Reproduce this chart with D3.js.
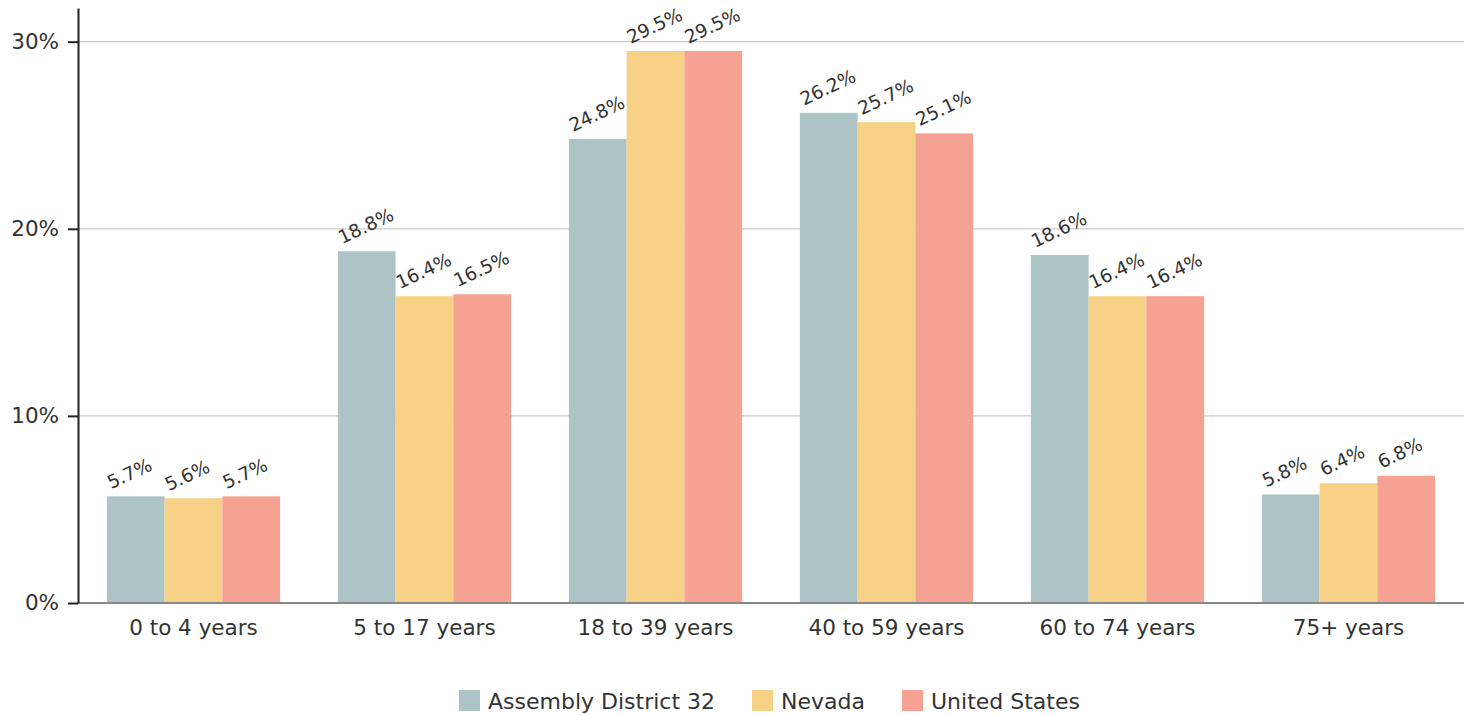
<!DOCTYPE html>
<html>
<head>
<meta charset="utf-8">
<script src="https://cdn.jsdelivr.net/npm/d3@7"></script>
<style>
  body { margin: 0; background: #fff; }
  svg { display: block; font-family: "DejaVu Sans", Verdana, sans-serif; }
</style>
</head>
<body>
<div id="chart"></div>
<script>
// age groups and the three series (percent)
const categories = ['0 to 4 years', '5 to 17 years', '18 to 39 years', '40 to 59 years', '60 to 74 years', '75+ years'];
const seriesNames = ['Assembly District 32', 'Nevada', 'United States'];
const district32 = [5.7, 18.8, 24.8, 26.2, 18.6, 5.8];
const nevada = [5.6, 16.4, 29.5, 25.7, 16.4, 6.4];
const unitedStates = [5.7, 16.5, 29.5, 25.1, 16.4, 6.8];
const yTicks = [0, 10, 20, 30];
const colors = ['#adc4c6', '#f7d286', '#f5a292'];

const W = 1472, H = 715;
const m = { left: 78, right: 8, top: 8, bottom: 112 };

const svg = d3.select('#chart').append('svg').attr('width', W).attr('height', H);

const x0 = d3.scaleBand().domain(categories).range([m.left, W - m.right]).paddingInner(0.25).paddingOuter(0.125);
const x1 = d3.scaleBand().domain(seriesNames).range([0, x0.bandwidth()]);
const y = d3.scaleLinear().domain([0, 31.8]).range([H - m.bottom, m.top]);

// gridlines
svg.append('g').selectAll('line').data(yTicks.filter(d => d > 0)).enter().append('line')
  .attr('x1', m.left).attr('x2', W - m.right)
  .attr('y1', d => y(d)).attr('y2', d => y(d))
  .attr('stroke', '#cccccc').attr('stroke-width', 1.3);

const rows = categories.map((c, i) => ({ cat: c, vals: [district32[i], nevada[i], unitedStates[i]] }));

const grp = svg.append('g').selectAll('g').data(rows).enter().append('g')
  .attr('transform', d => `translate(${x0(d.cat)},0)`);

grp.selectAll('rect').data(d => d.vals.map((v, k) => ({ v, k }))).enter().append('rect')
  .attr('x', d => x1(seriesNames[d.k]))
  .attr('width', x1.bandwidth())
  .attr('y', d => y(d.v))
  .attr('height', d => y(0) - y(d.v))
  .attr('fill', d => colors[d.k]);

grp.selectAll('text').data(d => d.vals.map((v, k) => ({ v, k }))).enter().append('text')
  .attr('transform', d => `translate(${x1(seriesNames[d.k]) + 4},${y(d.v) - 7}) rotate(-25)`)
  .attr('font-size', 18.5).attr('fill', '#333')
  .text(d => d.v.toFixed(1) + '%');

// baseline
svg.append('line')
  .attr('x1', m.left).attr('x2', W - m.right)
  .attr('y1', y(0)).attr('y2', y(0))
  .attr('stroke', '#888').attr('stroke-width', 2);

// y axis
const ya = svg.append('g').attr('transform', `translate(${m.left},0)`)
  .call(d3.axisLeft(y).tickValues(yTicks).tickFormat(d => d + '%').tickSize(10).tickSizeOuter(0));
ya.select('.domain').attr('stroke', '#222').attr('stroke-width', 2);
ya.selectAll('.tick line').attr('stroke', '#222').attr('stroke-width', 2);
ya.selectAll('.tick text').attr('font-size', 21.5).attr('fill', '#333').attr('font-family', 'DejaVu Sans').attr('x', -19);

// x axis labels
svg.append('g').selectAll('text').data(categories).enter().append('text')
  .attr('x', d => x0(d) + x0.bandwidth() / 2)
  .attr('y', y(0) + 32)
  .attr('text-anchor', 'middle')
  .attr('font-size', 21.5).attr('fill', '#333')
  .text(d => d);

// legend
const legX = [459, 752, 902];
const leg = svg.append('g').selectAll('g').data(seriesNames).enter().append('g')
  .attr('transform', (d, i) => `translate(${legX[i]},690)`);
leg.append('rect').attr('width', 21).attr('height', 21).attr('fill', (d, i) => colors[i]);
leg.append('text').attr('x', 29).attr('y', 19).attr('font-size', 22).attr('fill', '#333').text(d => d);
</script>
</body>
</html>
